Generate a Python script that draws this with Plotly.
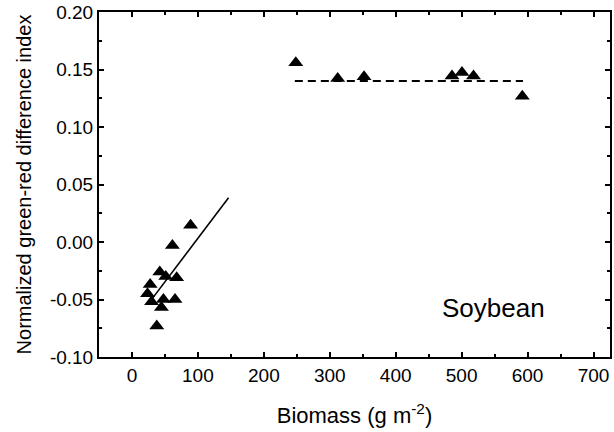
import plotly.graph_objects as go

# Low-biomass group (linear fit)
low_biomass = [88.9, 61.3, 42.2, 51.2, 67.8, 27.6, 23.6, 29.7, 47.7, 65.3, 44.7, 37.6]
low_ngrdi = [0.0145, -0.003, -0.026, -0.030, -0.031, -0.037, -0.045, -0.052, -0.050, -0.050, -0.057, -0.073]

# High-biomass group (constant)
high_biomass = [248.5, 312, 352, 485.4, 500.5, 518, 592]
high_ngrdi = [0.1558, 0.1422, 0.1437, 0.1443, 0.1475, 0.1443, 0.1268]

# Fitted lines
fit_slope = 0.000757
fit_intercept = -0.0725
fit_x = [31, 146.5]
fit_y = [fit_intercept + fit_slope * v for v in fit_x]
plateau_x = [247, 593]
plateau_level = 0.14
plateau_y = [plateau_level, plateau_level]

font = "Liberation Sans, Arial, sans-serif"

fig = go.Figure()
fig.add_trace(go.Scatter(x=fit_x, y=fit_y, mode="lines",
                         line=dict(color="black", width=1.6), showlegend=False))
fig.add_trace(go.Scatter(x=plateau_x, y=plateau_y, mode="lines",
                         line=dict(color="black", width=2, dash="8px,5px"), showlegend=False))
fig.add_trace(go.Scatter(x=low_biomass, y=low_ngrdi, mode="markers",
                         marker=dict(symbol="triangle-up", size=13, color="black"), showlegend=False))
fig.add_trace(go.Scatter(x=high_biomass, y=high_ngrdi, mode="markers",
                         marker=dict(symbol="triangle-up", size=13, color="black"), showlegend=False))

fig.add_annotation(x=548, y=-0.0578, text="Soybean", showarrow=False,
                   font=dict(family=font, size=26, color="black"))

axis_common = dict(showgrid=False, zeroline=False, showline=True, linecolor="black",
                   linewidth=2, mirror="ticks", ticks="inside", ticklen=5, tickwidth=1.5,
                   tickcolor="black", tickfont=dict(family=font, size=19, color="black"))

fig.update_xaxes(range=[-50, 725], tickvals=[0, 100, 200, 300, 400, 500, 600, 700],
                 minor=dict(dtick=50, tick0=0, ticks="inside", ticklen=3, tickcolor="black"),
                 title=dict(text="Biomass (g m<sup>-2</sup>)", font=dict(family=font, size=22, color="black"),
                            standoff=23),
                 **axis_common)
fig.update_yaxes(range=[-0.10, 0.20], tickvals=[-0.10, -0.05, 0.00, 0.05, 0.10, 0.15, 0.20],
                 ticktext=["-0.10", "-0.05", "0.00", "0.05", "0.10", "0.15", "0.20"],
                 minor=dict(dtick=0.025, tick0=0, ticks="inside", ticklen=3, tickcolor="black"),
                 title=dict(text="Normalized green-red difference index",
                            font=dict(family=font, size=20, color="black"), standoff=13),
                 **axis_common)

fig.update_layout(width=614, height=432, margin=dict(l=99, r=2, t=12, b=75),
                  plot_bgcolor="white", paper_bgcolor="white")

fig.write_html("out.html")
